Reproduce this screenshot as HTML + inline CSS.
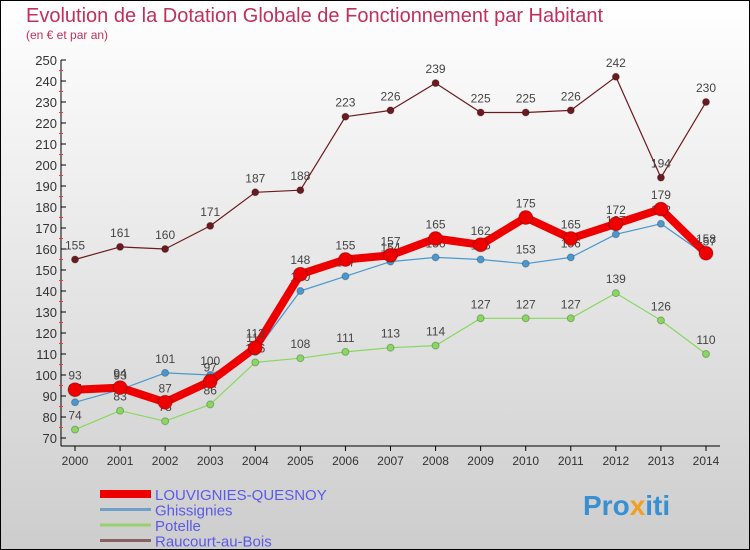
<!DOCTYPE html>
<html><head><meta charset="utf-8"><style>
body{margin:0;width:750px;height:550px;overflow:hidden;font-family:"Liberation Sans",sans-serif}
svg{display:block}
</style></head><body>
<svg id="c" width="750" height="550" xmlns="http://www.w3.org/2000/svg">
<defs><linearGradient id="bg" x1="0" y1="0" x2="0" y2="1"><stop offset="0" stop-color="#ffffff"/><stop offset="1" stop-color="#cdcdcd"/></linearGradient></defs>
<rect x="0.5" y="0.5" width="749" height="549" fill="url(#bg)" stroke="#000"/>
<text x="26" y="22" font-size="20" fill="#c0305a">Evolution de la Dotation Globale de Fonctionnement par Habitant</text>
<text x="26" y="39" font-size="12" fill="#c0305a">(en € et par an)</text>
<g id="axes"></g><g id="series"></g><g id="legend"></g>
<text x="583" y="515" font-size="28" font-weight="bold" fill="#3a8fd0">Pro<tspan fill="#f0a020">x</tspan>iti</text>
</svg>
<script>
const years=["2000","2001","2002","2003","2004","2005","2006","2007","2008","2009","2010","2011","2012","2013","2014"];
const louvignies=[93,94,87,97,113,148,155,157,165,162,175,165,172,179,158];
const ghissignies=[87,93,101,100,111,140,147,154,156,155,153,156,167,172,157];
const potelle=[74,83,78,86,106,108,111,113,114,127,127,127,139,126,110];
const raucourt=[155,161,160,171,187,188,223,226,239,225,225,226,242,194,230];
const yTicks=[70,80,90,100,110,120,130,140,150,160,170,180,190,200,210,220,230,240,250];
const NS="http://www.w3.org/2000/svg";
const x=i=>75+i*(706-75)/(years.length-1);
const y=v=>438-(v-70)*(438-60)/180;
function mk(t,a,p){const e=document.createElementNS(NS,t);for(const k in a)e.setAttribute(k,a[k]);p.appendChild(e);return e;}
const ax=document.getElementById('axes');
const yl=mk('line',{x1:61,y1:60,x2:61,y2:446,stroke:'#000'},ax);


const xl=mk('line',{x1:61,y1:446,x2:720,y2:446,stroke:'#000'},ax);


yTicks.forEach(v=>{
 mk('line',{x1:61,y1:y(v),x2:66,y2:y(v),stroke:'#000'},ax);
 if(v<250)mk('line',{x1:59,y1:y(v+5),x2:63,y2:y(v+5),stroke:'#f33'},ax);
 const t=mk('text',{x:57,y:y(v)+5,'text-anchor':'end','font-size':13,fill:'#333'},ax);t.textContent=v;
 
 
});
years.forEach((yr,i)=>{
 mk('line',{x1:x(i),y1:446,x2:x(i),y2:451,stroke:'#000'},ax);
 const t=mk('text',{x:x(i),y:465,'text-anchor':'middle','font-size':12,fill:'#333'},ax);t.textContent=yr;
 
 
});
const S=document.getElementById('series');
const defs=[
 {d:raucourt,c:'#6b1a1f',w:1.2,r:3.5,n:'raucourt'},
 {d:potelle,c:'#88d860',w:1.2,r:3.5,n:'potelle'},
 {d:ghissignies,c:'#4a98d0',w:1.2,r:3.5,n:'ghissignies'},
 {d:louvignies,c:'#ee0000',w:8,r:7,n:'louvignies'}];
defs.forEach(s=>{
 const g=mk('g',{},S);
 
 
 const pl=mk('polyline',{points:s.d.map((v,i)=>x(i)+','+y(v)).join(' '),fill:'none',stroke:s.c,'stroke-width':s.w,'stroke-linejoin':'round'},g);
 
 
 s.d.forEach((v,i)=>{
  const c=mk('circle',{cx:x(i),cy:y(v),r:s.r,fill:s.c,stroke:'rgba(0,0,0,0.25)'},g);
  
  
  const t=mk('text',{x:x(i),y:y(v)-10,'text-anchor':'middle','font-size':12,fill:'#444'},g);t.textContent=v;
  
  
 });
});
const L=document.getElementById('legend');
const leg=[['LOUVIGNIES-QUESNOY','#ee0000',8],['Ghissignies','#6fa0c8',3],['Potelle','#98d070',3],['Raucourt-au-Bois','#8a6060',3]];
leg.forEach((l,k)=>{
 const yy=494+k*15.5;
 const ln=mk('line',{x1:100,y1:yy,x2:151,y2:yy,stroke:l[1],'stroke-width':l[2]},L);
 
 
 const t=mk('text',{x:155,y:yy+6,'font-size':15,fill:'#5a5ae8'},L);t.textContent=l[0];
 
 
});
</script>
</body></html>
